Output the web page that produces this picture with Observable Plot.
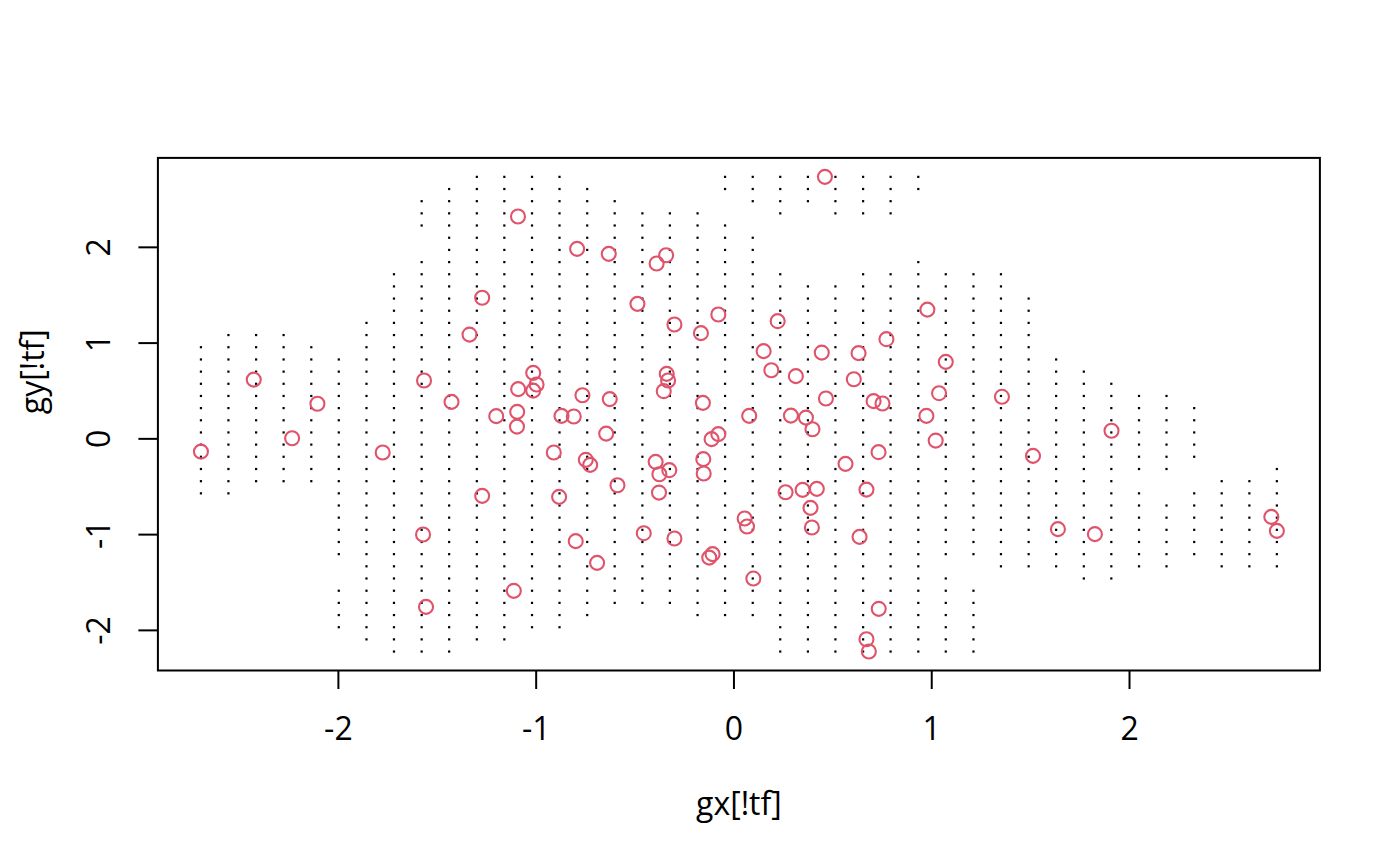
<!DOCTYPE html>
<html>
<head>
<meta charset="utf-8">
<script src="https://cdn.jsdelivr.net/npm/d3@7"></script>
<script src="https://cdn.jsdelivr.net/npm/@observablehq/plot@0.6"></script>
<style>
  body { margin: 0; background: white; }
</style>
</head>
<body>
<div id="chart"></div>
<script>
/* grid columns / rows (gx, gy) */
const gxVals = [-2.695, -2.556, -2.416, -2.277, -2.137, -1.998, -1.858, -1.719, -1.579, -1.440,
  -1.300, -1.161, -1.021, -0.882, -0.742, -0.603, -0.463, -0.324, -0.184, -0.045,
  0.095, 0.234, 0.374, 0.513, 0.653, 0.792, 0.932, 1.071, 1.211, 1.350,
  1.490, 1.629, 1.769, 1.908, 2.048, 2.187, 2.327, 2.466, 2.606, 2.745]
const gyVals = [-2.221, -2.094, -1.967, -1.840, -1.713, -1.586, -1.458, -1.331, -1.204, -1.077,
  -0.950, -0.823, -0.696, -0.569, -0.442, -0.315, -0.187, -0.060, 0.067, 0.194,
  0.321, 0.448, 0.575, 0.702, 0.829, 0.957, 1.084, 1.211, 1.338, 1.465,
  1.592, 1.719, 1.846, 1.973, 2.100, 2.228, 2.355, 2.482, 2.609, 2.736]

/* rows kept (!tf) in each column, as [first, last] row index runs */
const keptRows = [
  [[13, 25]], [[13, 26]], [[14, 26]], [[14, 26]], [[14, 25]],
  [[2, 5], [8, 24]], [[1, 27]], [[0, 31]], [[0, 32], [35, 37]], [[0, 38]],
  [[1, 39]], [[1, 39]], [[2, 39]], [[2, 39]], [[3, 38]],
  [[4, 37]], [[4, 36]], [[4, 36]], [[3, 36]], [[3, 35], [38, 39]],
  [[3, 34], [37, 39]], [[0, 31], [36, 39]], [[0, 30], [37, 39]], [[0, 30], [36, 39]], [[0, 31], [36, 39]],
  [[0, 31], [36, 39]], [[0, 32], [38, 39]], [[0, 6], [8, 31]], [[0, 5], [8, 31]], [[7, 31]],
  [[7, 29]], [[7, 24]], [[6, 23]], [[6, 22]], [[7, 13], [15, 21]],
  [[7, 12], [15, 21]], [[8, 13], [16, 20]], [[7, 14]], [[7, 14]], [[7, 15]],
]

/* the "data" points x, y */
const ptX = [-2.695, -2.428, -2.234, -2.106, -1.776, -1.567, -1.572, -1.557, -1.428, -1.337,
  -1.273, -1.092, -1.273, -1.202, -1.096, -1.097, -1.091, -1.015, -0.998, -1.015,
  -1.113, -0.911, -0.884, -0.872, -0.810, -0.793, -0.766, -0.749, -0.727, -0.800,
  -0.692, -0.646, -0.633, -0.628, -0.589, -0.488, -0.456, -0.391, -0.343, -0.340,
  -0.333, -0.355, -0.396, -0.327, -0.377, -0.379, -0.301, -0.301, -0.167, -0.157,
  -0.155, -0.153, -0.125, -0.108, -0.113, -0.079, -0.079, 0.054, 0.066, 0.077,
  0.098, 0.150, 0.189, 0.221, 0.261, 0.288, 0.313, 0.347, 0.364, 0.387,
  0.394, 0.397, 0.419, 0.444, 0.460, 0.465, 0.564, 0.606, 0.630, 0.635,
  0.670, 0.670, 0.682, 0.706, 0.731, 0.732, 0.751, 0.771, 0.973, 0.978,
  1.020, 1.037, 1.071, 1.355, 1.512, 1.638, 1.825, 1.909, 2.717, 2.745]
const ptY = [-0.133, 0.619, 0.007, 0.366, -0.143, 0.609, -0.999, -1.755, 0.386, 1.089,
  1.473, 2.322, -0.595, 0.237, 0.282, 0.128, 0.519, 0.689, 0.567, 0.504,
  -1.587, -0.143, -0.606, 0.240, 0.233, 1.984, 0.456, -0.219, -0.272, -1.068,
  -1.295, 0.055, 1.932, 0.415, -0.484, 1.410, -0.985, 1.831, 1.918, 0.679,
  0.609, 0.498, -0.240, -0.327, -0.369, -0.561, 1.194, -1.041, 1.104, 0.376,
  -0.212, -0.362, -1.240, -1.204, -0.003, 0.049, 1.298, -0.832, -0.916, 0.240,
  -1.459, 0.916, 0.717, 1.229, -0.557, 0.243, 0.655, -0.533, 0.222, -0.721,
  -0.926, 0.101, -0.522, 0.901, 2.736, 0.421, -0.261, 0.623, 0.895, -1.024,
  -0.530, -2.092, -2.221, 0.394, -0.139, -1.775, 0.369, 1.041, 0.240, 1.350,
  -0.018, 0.477, 0.804, 0.439, -0.178, -0.943, -0.995, 0.084, -0.815, -0.961]

const xTicks = [-2, -1, 0, 1, 2]
const yTicks = [-2, -1, 0, 1, 2]
const xTitle = 'gx[!tf]'
const yTitle = 'gy[!tf]'

// R style labels use a plain hyphen
const fmt = d => (d < 0 ? '-' + (-d) : String(d))

let grid = []
keptRows.forEach((runs, i) => {
  runs.forEach(([lo, hi]) => {
    for (let j = lo; j <= hi; j++) grid.push({ x: gxVals[i], y: gyVals[j] })
  })
})
let points = ptX.map((x, i) => ({ x: x, y: ptY[i] }))

const chart = Plot.plot({
  width: 1400,
  height: 866,
  marginLeft: 157.4,
  marginRight: 80.6,
  marginTop: 157.4,
  marginBottom: 196,
  style: { fontFamily: '"Open Sans", "Noto Sans", sans-serif', fontSize: '32px', color: 'black', background: 'white' },
  x: { domain: [-2.9126, 2.9626], inset: 0 },
  y: { domain: [-2.419, 2.934], inset: 0 },
  marks: [
    Plot.dot(grid, { x: 'x', y: 'y', r: 1.25, symbol: 'square', fill: 'black', stroke: null }),
    Plot.dot(points, { x: 'x', y: 'y', r: 7, stroke: '#DF536B', strokeWidth: 2.1, fill: 'none' }),
    Plot.frame({ stroke: 'black', strokeWidth: 2 }),
    Plot.axisX({ ticks: xTicks, tickSize: 19, tickPadding: 28, tickFormat: fmt, fontSize: 32, strokeWidth: 2, label: null }),
    Plot.axisY({ ticks: yTicks, tickSize: 19, tickFormat: () => '', strokeWidth: 2, label: null }),
    Plot.text(yTicks, { y: d => d, text: fmt, frameAnchor: 'left', dx: -58.4, rotate: -90, fontSize: 32, textAnchor: 'middle', lineAnchor: 'middle' }),
    Plot.text([xTitle], { text: d => d, frameAnchor: 'bottom', dy: 134, fontSize: 32, lineAnchor: 'middle' }),
    Plot.text([yTitle], { text: d => d, frameAnchor: 'left', dx: -124, rotate: -90, fontSize: 32, lineAnchor: 'middle' }),
  ],
})

d3.select('#chart').append(() => chart)
</script>
</body>
</html>
